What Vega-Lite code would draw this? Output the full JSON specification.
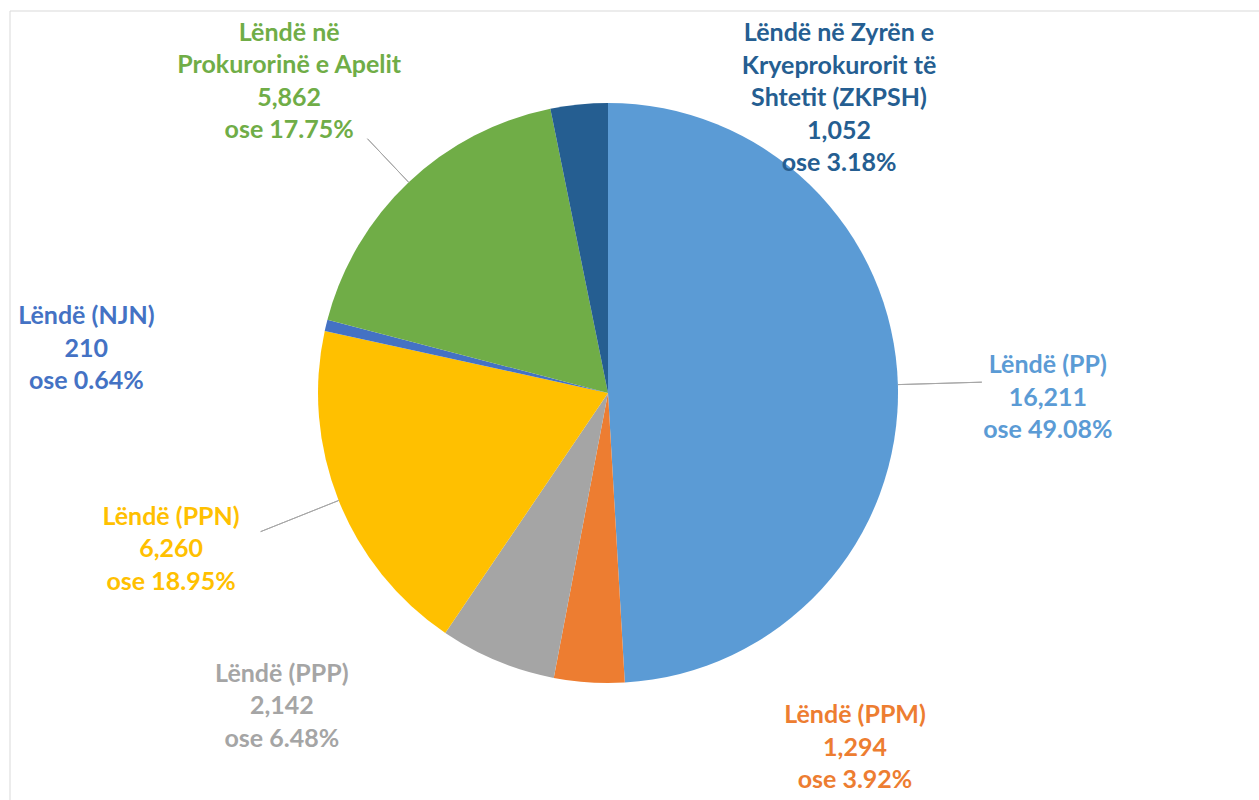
{
  "$schema": "https://vega.github.io/schema/vega-lite/v6.json",
  "width": 1196,
  "height": 764,
  "autosize": {"type": "none"},
  "padding": {"left": 10, "top": 11, "right": 53, "bottom": 25},
  "background": "white",
  "config": {
    "view": {"stroke": null},
    "text": {"font": "Lato", "fontWeight": "bold", "fontSize": 25, "lineHeight": 32.5, "lineBreak": "\n", "align": "center", "baseline": "middle"}
  },
  "data": {
    "values": [
      {"idx": 1, "cat": "PP", "value": 16211, "label": "Lëndë (PP)\n16,211\nose 49.08%"},
      {"idx": 2, "cat": "PPM", "value": 1294, "label": "Lëndë (PPM)\n1,294\nose 3.92%"},
      {"idx": 3, "cat": "PPP", "value": 2142, "label": "Lëndë (PPP)\n2,142\nose 6.48%"},
      {"idx": 4, "cat": "PPN", "value": 6260, "label": "Lëndë (PPN)\n6,260\nose 18.95%"},
      {"idx": 5, "cat": "NJN", "value": 210, "label": "Lëndë (NJN)\n210\nose 0.64%"},
      {"idx": 6, "cat": "Apelit", "value": 5862, "label": "Lëndë në\nProkurorinë e Apelit\n5,862\nose 17.75%"},
      {"idx": 7, "cat": "ZKPSH", "value": 1052, "label": "Lëndë në Zyrën e\nKryeprokurorit të\nShtetit (ZKPSH)\n1,052\nose 3.18%"}
    ]
  },
  "layer": [
    {
      "transform": [{"filter": "datum.idx == 1"}],
      "mark": {"type": "rule", "color": "#D9D9D9", "strokeWidth": 1},
      "encoding": {
        "x": {"datum": 0, "type": "quantitative", "scale": {"domain": [0, 1]}, "axis": null},
        "y": {"datum": 1, "type": "quantitative", "scale": {"domain": [0, 1]}, "axis": null},
        "y2": {"datum": -0.1}
      }
    },
    {
      "transform": [{"filter": "datum.idx == 1"}],
      "mark": {"type": "rule", "color": "#D9D9D9", "strokeWidth": 1},
      "encoding": {
        "x": {"datum": 0, "type": "quantitative", "scale": {"domain": [0, 1]}, "axis": null},
        "x2": {"datum": 1.1},
        "y": {"datum": 1, "type": "quantitative", "scale": {"domain": [0, 1]}, "axis": null}
      }
    },
    {
      "mark": {"type": "arc", "radius": 290},
      "encoding": {
        "theta": {"field": "value", "type": "quantitative", "stack": true},
        "order": {"field": "idx", "type": "quantitative"},
        "color": {
          "field": "cat", "type": "nominal", "legend": null,
          "scale": {
            "domain": ["PP", "PPM", "PPP", "PPN", "NJN", "Apelit", "ZKPSH"],
            "range": ["#5B9BD5", "#ED7D31", "#A5A5A5", "#FFC000", "#4472C4", "#70AD47", "#255E91"]
          }
        }
      }
    },
    {
      "transform": [
        {"stack": "value", "groupby": [], "sort": [{"field": "idx"}], "as": ["v0", "v1"]},
        {"fold": ["v0", "v1"], "as": ["edge", "ang"]},
        {"aggregate": [{"op": "mean", "field": "ang", "as": "mid"}], "groupby": ["cat", "label"]}
      ],
      "layer": [
        {
          "transform": [{"filter": {"field": "cat", "oneOf": ["PP", "PPN"]}}],
          "mark": {"type": "arc", "radius": 374, "radius2": 290, "filled": false, "color": "#A6A6A6", "strokeWidth": 1},
          "encoding": {"theta": {"field": "mid", "type": "quantitative", "stack": null}, "theta2": {"field": "mid"}}
        },
        {
          "transform": [{"filter": {"field": "cat", "equal": "Apelit"}}],
          "mark": {"type": "arc", "radius": 350, "radius2": 290, "filled": false, "color": "#A6A6A6", "strokeWidth": 1},
          "encoding": {"theta": {"field": "mid", "type": "quantitative", "stack": null}, "theta2": {"field": "mid"}}
        },
        {
          "encoding": {
            "theta": {"field": "mid", "type": "quantitative", "stack": null},
            "text": {"field": "label", "type": "nominal"},
            "color": {"field": "cat", "type": "nominal", "legend": null}
          },
          "layer": [
            {"transform": [{"filter": {"field": "cat", "equal": "PP"}}], "mark": {"type": "text", "radius": 440, "dx": 0, "dy": -15}},
            {"transform": [{"filter": {"field": "cat", "equal": "PPM"}}], "mark": {"type": "text", "radius": 338, "dx": 269, "dy": -15}},
            {"transform": [{"filter": {"field": "cat", "equal": "PPP"}}], "mark": {"type": "text", "radius": 414, "dx": -168, "dy": -102}},
            {"transform": [{"filter": {"field": "cat", "equal": "PPN"}}], "mark": {"type": "text", "radius": 464, "dx": -6, "dy": -48}},
            {"transform": [{"filter": {"field": "cat", "equal": "NJN"}}], "mark": {"type": "text", "radius": 518, "dx": -18, "dy": 44}},
            {"transform": [{"filter": {"field": "cat", "equal": "Apelit"}}], "mark": {"type": "text", "radius": 445, "dx": -13, "dy": -37}},
            {"transform": [{"filter": {"field": "cat", "equal": "ZKPSH"}}], "mark": {"type": "text", "radius": 270, "dx": 258, "dy": -91}}
          ]
        }
      ]
    }
  ]
}
